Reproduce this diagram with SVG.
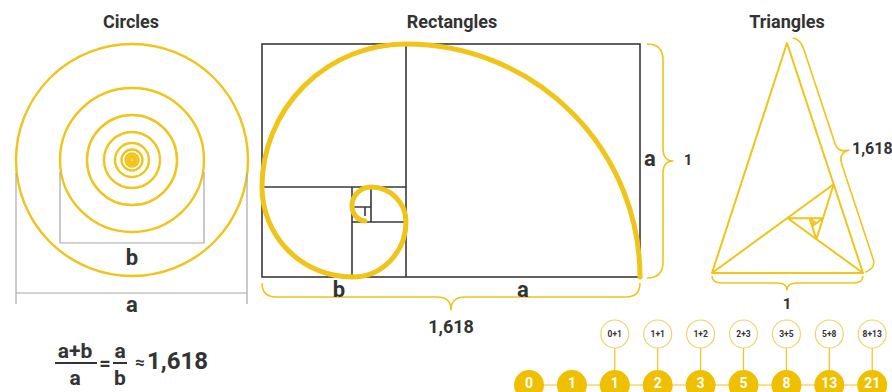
<svg xmlns="http://www.w3.org/2000/svg" width="892" height="392" viewBox="0 0 892 392">
<style>
.t{font-family:Roboto,"Liberation Sans",Arial,sans-serif;font-weight:700;fill:#333;text-anchor:middle}
.title{font-size:18px}
.lbl{font-size:22px}
.gold{fill:none;stroke:#F0C419}
.ring{fill:none;stroke:#F0C419;stroke-width:2.4}
.gray{fill:none;stroke:#A8A8A8;stroke-width:1.2}
.dark{fill:none;stroke:#3a3a3a;stroke-width:1.6}
.brace{fill:none;stroke:#F0C419;stroke-width:1.6;stroke-linejoin:round}
.tri{fill:none;stroke:#F0C419;stroke-width:2;stroke-linejoin:round}
.fill{fill:#F0C000}
.sc{fill:#fff;stroke:#F0D36A;stroke-width:1.2}
.nw{font-family:Roboto,"Liberation Sans",Arial,sans-serif;font-weight:700;fill:#fff;text-anchor:middle;font-size:14px}
.ns{font-family:Roboto,"Liberation Sans",Arial,sans-serif;font-weight:700;fill:#333;text-anchor:middle;font-size:8.5px}
.conn{stroke:#F0C419;stroke-width:1.2;fill:none}
</style>

<g id="circles">
  <text class="t title" x="131" y="28">Circles</text>
  <circle class="ring" cx="132" cy="160" r="116" stroke-width="2"/>
  <circle class="ring" cx="132" cy="160" r="72"/>
  <circle class="ring" cx="132" cy="160" r="45"/>
  <circle class="ring" cx="132" cy="160" r="28"/>
  <circle class="ring" cx="132" cy="160" r="17"/>
  <circle class="ring" cx="132" cy="160" r="10.5"/>
  <circle class="ring" cx="132" cy="160" r="6.5"/>
  <circle class="ring" cx="132" cy="160" r="4" stroke-width="2"/>
  <circle class="ring" cx="132" cy="160" r="2" stroke-width="1.4"/>
  <path class="gray" d="M60,172 V243 H204 V172"/>
  <path class="gray" d="M16,173 V304 M247,173 V304 M16,293 H247"/>
  <text class="t lbl" x="132" y="265">b</text>
  <text class="t lbl" x="132" y="312">a</text>
</g>

<g id="rectangles">
  <text class="t title" x="452" y="28">Rectangles</text>
  <rect class="dark" x="262" y="44" width="378" height="233"/>
  <path class="dark" d="M406,44 V277 M262,187 H406 M352,187 V277 M352,222 H406 M371,187 V222 M352,207 H371 M365,207 V216"/>
  <path class="gold" stroke-width="5" stroke-linecap="round" d="M640,277 A234,233 0 0 0 406,44 A144,143 0 0 0 262,187 A90,90 0 0 0 352,277 A54,55 0 0 0 406,222 A35,35 0 0 0 371,187 A19,19 0 0 0 352,206 A14,15 0 0 0 365,221"/>
  <path class="brace" d="M647,44 Q663,44 663,60 L663,148 Q663,161 673,161 Q663,161 663,174 L663,262 Q663,278 647,278"/>
  <path class="brace" d="M262,283 Q262,297 276,297 L437,297 Q451,297 451,310 Q451,297 465,297 L626,297 Q640,297 640,283"/>
  <text class="t lbl" x="650" y="166">a</text>
  <text class="t" x="688" y="165" font-size="15">1</text>
  <text class="t lbl" x="339" y="297">b</text>
  <text class="t lbl" x="523" y="297">a</text>
  <text class="t" x="451" y="333" font-size="18">1,618</text>
</g>

<g id="triangles">
  <text class="t title" x="787" y="28">Triangles</text>
  <path class="tri" d="M787,43 L712,273 L863,273 Z"/>
  <line class="tri" x1="712" y1="273" x2="863" y2="273" stroke-width="3"/>
  <path class="tri" stroke-width="1.8" d="M712,273 L833.7,184.3 M787.4,218 L863,273 M833.7,184.3 L816.4,239.1 M787.4,218.1 L823,218.2 M816.4,239.1 L809.4,218.1 M823,218.2 L812.1,226.2 M809.4,218.1 L816.2,223.2 M812.1,226.2 L813.6,221.2"/>
  <path class="brace" transform="translate(787,43) rotate(71.71)" d="M-3,-7 Q0,-14 12,-14 L110,-14 Q121,-14 121,-25 Q121,-14 132,-14 L232,-14 Q242,-14 242,-2"/>
  <path class="brace" d="M712,276 Q712,283 722,283 L777,283 Q787,283 787,290 Q787,283 797,283 L853,283 Q863,283 863,276"/>
  <text class="t" x="852" y="154" font-size="16" style="text-anchor:start">1,618</text>
  <text class="t" x="787" y="309" font-size="15">1</text>
</g>

<g id="formula">
  <text class="t" x="75" y="358" font-size="21">a+b</text>
  <line x1="55" y1="363" x2="97" y2="363" stroke="#333" stroke-width="2"/>
  <text class="t" x="75" y="385" font-size="21">a</text>
  <text class="t" x="105" y="370" font-size="20">=</text>
  <text class="t" x="120" y="358" font-size="21">a</text>
  <line x1="113" y1="363" x2="127" y2="363" stroke="#333" stroke-width="2"/>
  <text class="t" x="120" y="385" font-size="21">b</text>
  <text class="t" x="140" y="368" font-size="17">≈</text>
  <text class="t" x="147" y="369" font-size="24" style="text-anchor:start">1,618</text>
</g>

<g id="connectors">
  <line class="conn" x1="529" y1="385" x2="872.2" y2="385"/>
  <path class="conn" d="M614.8,348 V370 M657.7,348 V370 M700.6,348 V370 M743.5,348 V370 M786.4,348 V370 M829.3,348 V370 M872.2,348 V370"/>
</g>

<g id="fib">
  <g id="f0"><circle class="fill" cx="529" cy="385" r="15"/><text class="nw" x="529" y="387.5">0</text></g>
  <g id="f1"><circle class="fill" cx="571.9" cy="385" r="15"/><text class="nw" x="571.9" y="387.5">1</text></g>
  <g id="f2"><circle class="fill" cx="614.8" cy="385" r="15"/><text class="nw" x="614.8" y="387.5">1</text></g>
  <g id="f3"><circle class="fill" cx="657.7" cy="385" r="15"/><text class="nw" x="657.7" y="387.5">2</text></g>
  <g id="f4"><circle class="fill" cx="700.6" cy="385" r="15"/><text class="nw" x="700.6" y="387.5">3</text></g>
  <g id="f5"><circle class="fill" cx="743.5" cy="385" r="15"/><text class="nw" x="743.5" y="387.5">5</text></g>
  <g id="f6"><circle class="fill" cx="786.4" cy="385" r="15"/><text class="nw" x="786.4" y="387.5">8</text></g>
  <g id="f7"><circle class="fill" cx="829.3" cy="385" r="15"/><text class="nw" x="829.3" y="387.5">13</text></g>
  <g id="f8"><circle class="fill" cx="872.2" cy="385" r="15"/><text class="nw" x="872.2" y="387.5">21</text></g>
  <g id="s2"><circle class="sc" cx="614.8" cy="334" r="14"/><text class="ns" x="614.8" y="337">0+1</text></g>
  <g id="s3"><circle class="sc" cx="657.7" cy="334" r="14"/><text class="ns" x="657.7" y="337">1+1</text></g>
  <g id="s4"><circle class="sc" cx="700.6" cy="334" r="14"/><text class="ns" x="700.6" y="337">1+2</text></g>
  <g id="s5"><circle class="sc" cx="743.5" cy="334" r="14"/><text class="ns" x="743.5" y="337">2+3</text></g>
  <g id="s6"><circle class="sc" cx="786.4" cy="334" r="14"/><text class="ns" x="786.4" y="337">3+5</text></g>
  <g id="s7"><circle class="sc" cx="829.3" cy="334" r="14"/><text class="ns" x="829.3" y="337">5+8</text></g>
  <g id="s8"><circle class="sc" cx="872.2" cy="334" r="14"/><text class="ns" x="872.2" y="337">8+13</text></g>
</g>
</svg>
